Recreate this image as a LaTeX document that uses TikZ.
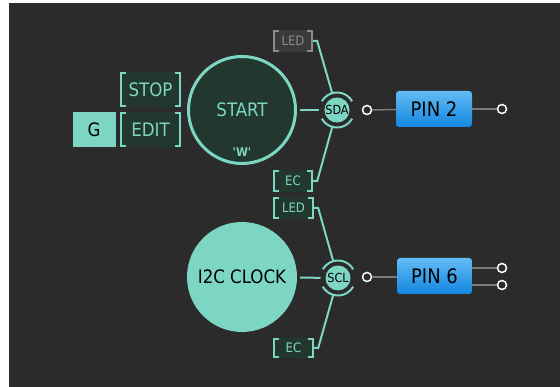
\documentclass[tikz,border=0pt]{standalone}
\usepackage{fontspec}
\setmainfont{DejaVu Sans Condensed}
\usepackage{xcolor}
\usetikzlibrary{positioning}

\definecolor{panel}{HTML}{2B2B2B}
\definecolor{mint}{HTML}{7DD6C4}
\definecolor{moss}{HTML}{22382F}
\definecolor{offgray}{HTML}{8C8C8C}
\definecolor{offfill}{HTML}{3A3A3A}
\definecolor{wiregray}{HTML}{7A7A7A}
\definecolor{pintop}{HTML}{62BCF4}
\definecolor{pinbot}{HTML}{1386E0}

\tikzset{
  tag/.style={inner sep=0pt, text=#1, path picture={
      \draw[#1, line width=2pt]
        ([xshift=6pt,yshift=-1pt]path picture bounding box.north west) -- ++(-5pt,0)
        |- ([xshift=6pt,yshift=1pt]path picture bounding box.south west);
      \draw[#1, line width=2pt]
        ([xshift=-6pt,yshift=-1pt]path picture bounding box.north east) -- ++(5pt,0)
        |- ([xshift=-6pt,yshift=1pt]path picture bounding box.south east);}},
  tag/.default=mint,
  bigtag/.style={tag, fill=moss, minimum width=61pt, minimum height=35pt, font=\fontsize{18.5}{20}\selectfont},
  smalltag/.style={minimum width=40pt, minimum height=22pt, font=\fontsize{13}{14}\selectfont},
  bus/.style={circle, fill=mint, minimum size=25pt, inner sep=0pt, outer sep=5pt, text=black, font=\fontsize{12.5}{13}\selectfont},
  jack/.style={circle, draw=white, fill=panel, line width=1.5pt, minimum size=9pt, inner sep=0pt},
  pinbox/.style={rounded corners=3pt, top color=pintop, bottom color=pinbot, minimum width=76pt, minimum height=36pt, text=black, font=\fontsize{20}{22}\selectfont},
  wire/.style={mint, line width=2pt},
  lead/.style={wiregray, line width=1.5pt},
}

\begin{document}
\begin{tikzpicture}[x=1pt,y=1pt]
% Panel
\fill[white] (0,0) rectangle (560,-387);
\fill[panel] (9,-3) rectangle (560,-387);
% Start block
\node[circle, draw=mint, line width=3pt, fill=moss, minimum size=107pt, text=mint, font=\fontsize{18.5}{20}\selectfont] (start) at (242,-110) {START};
\node[text=mint, font=\fontsize{12}{13}\selectfont\bfseries] (startkey) at (242,-152) {\textquotesingle W\textquotesingle};
\node[bigtag] (stop) at (150.5,-89.5) {STOP};
\node[bigtag, below=5pt of stop] (edit) {EDIT};
\node[fill=mint, minimum width=43pt, minimum height=35pt, text=black, font=\fontsize{18.5}{20}\selectfont, left=4pt of edit] (g) {G};
% SDA side
\node[tag=offgray, fill=offfill, smalltag] (leda) at (293,-41) {LED};
\node[tag, fill=moss, smalltag] (eca) at (293,-181) {EC};
\node[bus] (sda) at (337,-110) {SDA};
\node[jack] (sdajack) at (367,-110) {};
\node[pinbox] (pin2) at (434,-109) {PIN 2};
\node[jack] (pin2out) at (502,-109) {};
% Clock block
\node[circle, fill=mint, minimum size=110pt, text=black, font=\fontsize{18.5}{20}\selectfont] (clock) at (242,-277) {I2C CLOCK};
\node[tag, fill=moss, smalltag, minimum width=41pt] (ledb) at (293.5,-208) {LED};
\node[tag, fill=moss, smalltag, minimum width=41pt, minimum height=20pt] (ecb) at (293.5,-348) {EC};
\node[bus] (scl) at (338,-278) {SCL};
\node[jack] (scljack) at (367,-277) {};
\node[pinbox, minimum width=75pt] (pin6) at (434.5,-276) {PIN 6};
\node[jack] (pin6a) at (502,-268) {};
\node[jack] (pin6b) at (502,-285) {};
% Bus rings
\foreach \ring in {sda,scl} {
  \draw[wire] ([shift={(30:17.5pt)}]\ring.center) arc[start angle=30, end angle=150, radius=17.5pt];
  \draw[wire] ([shift={(210:17.5pt)}]\ring.center) arc[start angle=210, end angle=330, radius=17.5pt];
}
% Connectors
\draw[wire, shorten <=3pt] (start) -- (sda);
\draw[wire] (leda.east) -- ++(4pt,0) -- (sda);
\draw[wire] (eca.east) -- ++(4pt,0) -- (sda);
\draw[wire, shorten <=3pt] (clock) -- (scl);
\draw[wire] (ledb.east) -- ++(4pt,0) -- (scl);
\draw[wire] (ecb.east) -- ++(4pt,0) -- (scl);
\draw[lead] (sdajack) -- (pin2);
\draw[lead] (pin2) -- (pin2out);
\draw[lead] (scljack) -- (pin6.west |- scljack);
\draw[lead] (pin6.east |- pin6a) -- (pin6a);
\draw[lead] (pin6.east |- pin6b) -- (pin6b);
\end{tikzpicture}
\end{document}
